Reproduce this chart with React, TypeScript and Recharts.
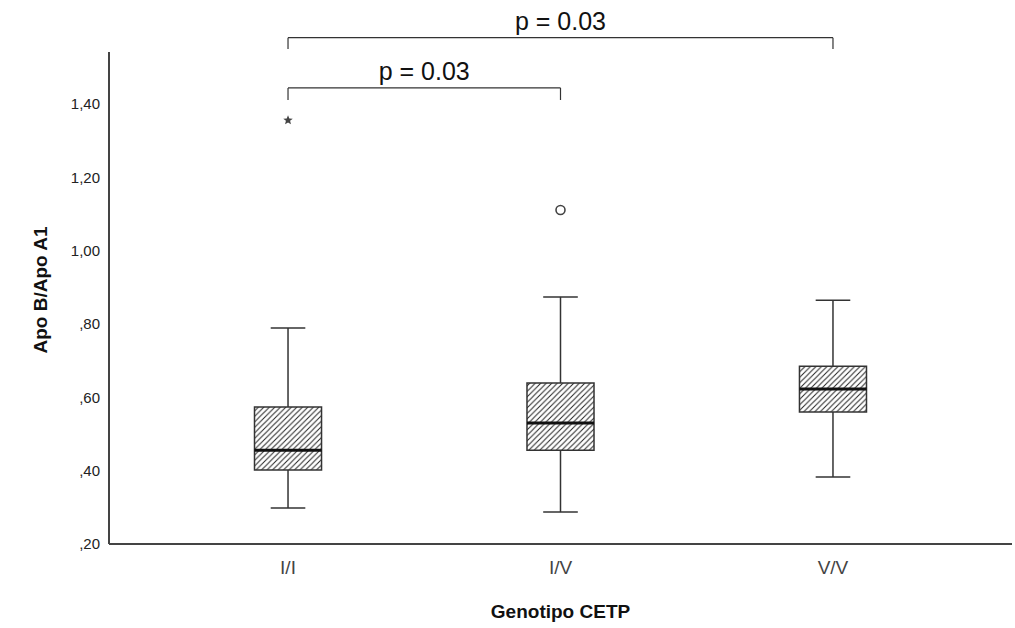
import { ComposedChart, XAxis, YAxis, Scatter, ReferenceArea, ReferenceLine } from 'recharts';

const genotypes = ['I/I', 'I/V', 'V/V'];
const groupIds = [1, 2, 3];
const whiskerLow = [0.298, 0.287, 0.383];
const quartile1 = [0.402, 0.456, 0.56];
const medians = [0.456, 0.53, 0.623];
const quartile3 = [0.574, 0.639, 0.685];
const whiskerHigh = [0.789, 0.874, 0.865];
const yTicks = [0.2, 0.4, 0.6, 0.8, 1.0, 1.2, 1.4];

const outlierGroups = [1, 2];
const outlierValues = [1.356, 1.111];
const outlierSymbols = ['star', 'circle'];

const comparisonFrom = [1, 1];
const comparisonTo = [3, 2];
const comparisonLabels = ['p = 0.03', 'p = 0.03'];

const FONT = '"Liberation Sans", Arial, sans-serif';
const LINE = '#333';
const BOX_HALF = 0.123;
const CAP_HALF = 0.0635;

const outliers = outlierGroups.map((g, i) => ({ x: g, y: outlierValues[i], symbol: outlierSymbols[i] }));

// bracket heights in data units (top line, end of the drop)
const bracketTop = [1.581, 1.444];
const bracketDrop = [1.55, 1.411];

const fmtY = (v: number) => {
	const s = v.toFixed(2).replace('.', ',');
	return s.startsWith('0') ? s.slice(1) : s;
};

const OutlierShape = (props: any) => {
	const { cx, cy, payload } = props;
	if (payload.symbol === 'circle') {
		return <circle cx={cx} cy={cy} r={4.5} fill="none" stroke="#444" strokeWidth={1.6} />;
	}
	const pts: string[] = [];
	for (let i = 0; i < 10; i++) {
		const r = i % 2 === 0 ? 5 : 2.2;
		const a = -Math.PI / 2 + (i * Math.PI) / 5;
		pts.push(`${cx + r * Math.cos(a)},${cy + r * Math.sin(a)}`);
	}
	return <polygon points={pts.join(' ')} fill="#444" />;
};

const YTitle = (props: any) => {
	const { viewBox } = props;
	const cx = 40;
	const cy = viewBox.y + viewBox.height / 2 - 8;
	return (
		<text
			x={cx}
			y={cy}
			transform={`rotate(-90 ${cx} ${cy})`}
			textAnchor="middle"
			dominantBaseline="central"
			fontFamily={FONT}
			fontSize={19}
			fontWeight="bold"
			fill="#111"
		>
			Apo B/Apo A1
		</text>
	);
};

export default function App() {
	return (
		<div style={{ position: 'absolute', left: 0, top: 0, background: '#fff' }}>
			<svg width={0} height={0} style={{ position: 'absolute' }}>
				<defs>
					<pattern id="hatch" patternUnits="userSpaceOnUse" width={5.5} height={5.5}>
						<path d="M-1,1 l2,-2 M0,5.5 l5.5,-5.5 M4.5,6.5 l2,-2" stroke="#222" strokeWidth={1} />
					</pattern>
				</defs>
			</svg>
			<ComposedChart width={1015} height={628} margin={{ top: 52, right: 3, bottom: 24, left: 0 }}>
				<XAxis
					type="number"
					dataKey="x"
					domain={[0.343, 3.657]}
					ticks={groupIds}
					tickFormatter={(v: number) => genotypes[v - 1]}
					tickLine={false}
					tickMargin={11}
					height={60}
					axisLine={{ stroke: '#444', strokeWidth: 2 }}
					tick={{ fontFamily: FONT, fontSize: 19, fill: '#444' }}
					label={{
						value: 'Genotipo CETP',
						position: 'bottom',
						offset: 1,
						fontFamily: FONT,
						fontSize: 19,
						fontWeight: 'bold',
						fill: '#111',
					}}
				/>
				<YAxis
					type="number"
					dataKey="y"
					domain={[0.2, 1.542]}
					ticks={yTicks}
					tickFormatter={fmtY}
					tickLine={false}
					tickMargin={3}
					width={109}
					allowDataOverflow
					axisLine={{ stroke: '#444', strokeWidth: 2 }}
					tick={{ fontFamily: FONT, fontSize: 15, fill: '#222' }}
					label={<YTitle />}
				/>
				{groupIds.map((g, i) => (
					<ReferenceArea
						key={`box-${g}`}
						x1={g - BOX_HALF}
						x2={g + BOX_HALF}
						y1={quartile1[i]}
						y2={quartile3[i]}
						fill="url(#hatch)"
						fillOpacity={1}
						stroke={LINE}
						strokeWidth={1.5}
					/>
				))}
				{groupIds.map((g, i) => (
					<ReferenceLine key={`wh-${g}`} segment={[{ x: g, y: quartile3[i] }, { x: g, y: whiskerHigh[i] }]} stroke={LINE} strokeWidth={1.5} />
				))}
				{groupIds.map((g, i) => (
					<ReferenceLine key={`wl-${g}`} segment={[{ x: g, y: whiskerLow[i] }, { x: g, y: quartile1[i] }]} stroke={LINE} strokeWidth={1.5} />
				))}
				{groupIds.map((g, i) => (
					<ReferenceLine key={`ch-${g}`} segment={[{ x: g - CAP_HALF, y: whiskerHigh[i] }, { x: g + CAP_HALF, y: whiskerHigh[i] }]} stroke={LINE} strokeWidth={1.5} />
				))}
				{groupIds.map((g, i) => (
					<ReferenceLine key={`cl-${g}`} segment={[{ x: g - CAP_HALF, y: whiskerLow[i] }, { x: g + CAP_HALF, y: whiskerLow[i] }]} stroke={LINE} strokeWidth={1.5} />
				))}
				{groupIds.map((g, i) => (
					<ReferenceLine key={`md-${g}`} segment={[{ x: g - BOX_HALF, y: medians[i] }, { x: g + BOX_HALF, y: medians[i] }]} stroke="#111" strokeWidth={3} />
				))}
				{comparisonFrom.map((f, i) => (
					<ReferenceLine
						key={`bt-${i}`}
						segment={[{ x: f, y: bracketTop[i] }, { x: comparisonTo[i], y: bracketTop[i] }]}
						stroke={LINE}
						strokeWidth={1.2}
						ifOverflow="visible"
						label={{ value: comparisonLabels[i], position: 'top', offset: 8, fontFamily: FONT, fontSize: 25, fill: '#111' }}
					/>
				))}
				{comparisonFrom.map((f, i) => (
					<ReferenceLine key={`bl-${i}`} segment={[{ x: f, y: bracketTop[i] }, { x: f, y: bracketDrop[i] }]} stroke={LINE} strokeWidth={1.2} ifOverflow="visible" />
				))}
				{comparisonTo.map((t, i) => (
					<ReferenceLine key={`br-${i}`} segment={[{ x: t, y: bracketTop[i] }, { x: t, y: bracketDrop[i] }]} stroke={LINE} strokeWidth={1.2} ifOverflow="visible" />
				))}
				<Scatter data={outliers} dataKey="y" shape={<OutlierShape />} isAnimationActive={false} />
			</ComposedChart>
		</div>
	);
}
